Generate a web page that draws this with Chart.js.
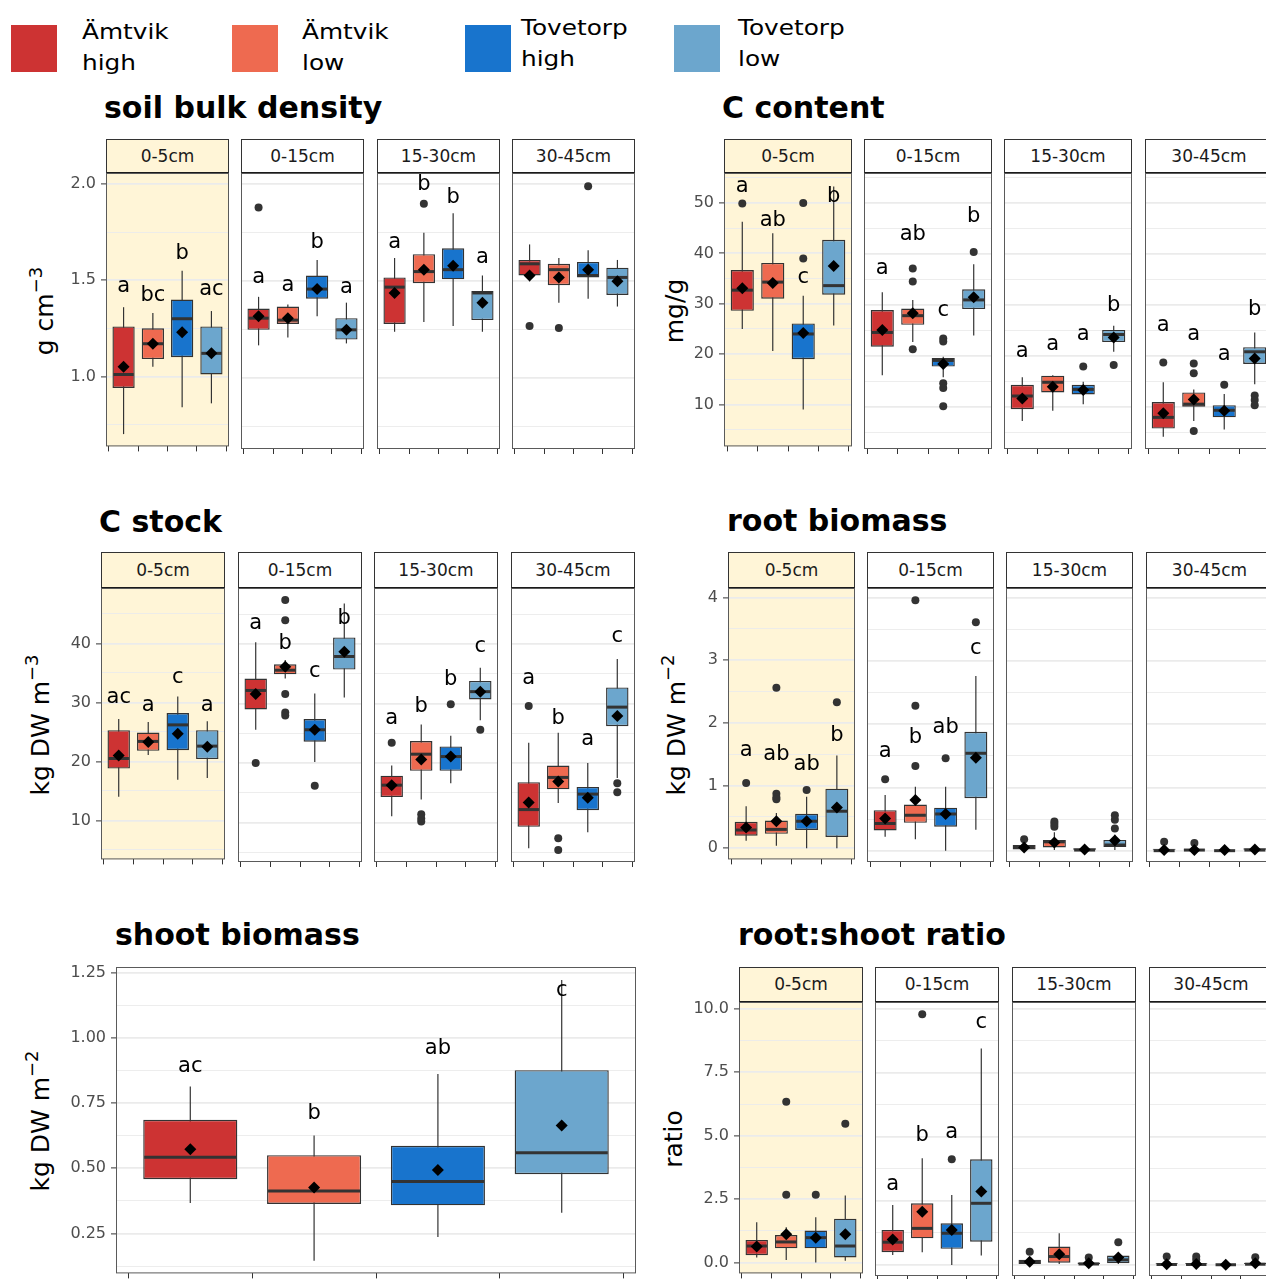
<!DOCTYPE html>
<html>
<head>
<meta charset="utf-8">
<script src="https://cdn.jsdelivr.net/npm/chart.js"></script>
<style>
  body { margin: 0; width: 1266px; height: 1279px; overflow: hidden; background: #fff; position: relative;
         font-family: 'DejaVu Sans', sans-serif; }
  .abs { position: absolute; white-space: nowrap; }
  .title { font-weight: bold; font-size: 30px; line-height: 30px; color: #000; }
  .ytitle { font-size: 25px; line-height: 25px; color: #000; transform: translate(-50%, -50%) rotate(-90deg); }
  .ytitle sup { font-size: 0.72em; vertical-align: 0.6em; line-height: 0; }
  .strip { box-sizing: border-box; border: 1px solid #333; border-bottom: 2px solid #1a1a1a; text-align: center;
           font-size: 17px; color: #1a1a1a; background: #fff; }
  .leg { font-size: 21px; line-height: 31px; color: #000; transform: scaleX(1.18); transform-origin: 0 0; }
  canvas { position: absolute; }
</style>
</head>
<body>
<script>
  var groups = ['Ämtvik high', 'Ämtvik low', 'Tovetorp high', 'Tovetorp low'];
  var colors = ['#CD3333', '#EE6A50', '#1874CD', '#6CA6CD'];
  var depths = ['0-5cm', '0-15cm', '15-30cm', '30-45cm'];

  // every table below: one row per depth facet, one entry per group
  // soil bulk density (g cm-3)
  var bdLo   = [[0.70, 1.05, 0.84, 0.86], [1.17, 1.21, 1.32, 1.18], [1.24, 1.29, 1.27, 1.24], [1.50, 1.39, 1.41, 1.37]];
  var bdQ1   = [[0.94, 1.09, 1.10, 1.01], [1.25, 1.28, 1.41, 1.20], [1.28, 1.49, 1.51, 1.30], [1.53, 1.48, 1.52, 1.43]];
  var bdMed  = [[1.01, 1.17, 1.30, 1.12], [1.31, 1.30, 1.46, 1.25], [1.47, 1.55, 1.56, 1.44], [1.59, 1.56, 1.53, 1.52]];
  var bdQ3   = [[1.26, 1.25, 1.40, 1.26], [1.36, 1.37, 1.53, 1.31], [1.52, 1.64, 1.67, 1.45], [1.61, 1.59, 1.60, 1.57]];
  var bdHi   = [[1.36, 1.33, 1.55, 1.34], [1.42, 1.38, 1.61, 1.39], [1.62, 1.75, 1.85, 1.53], [1.69, 1.62, 1.66, 1.61]];
  var bdMean = [[1.05, 1.17, 1.23, 1.12], [1.32, 1.31, 1.46, 1.25], [1.44, 1.56, 1.58, 1.39], [1.53, 1.52, 1.56, 1.50]];
  var bdOut  = [[[], [], [], []], [[1.88], [], [], []], [[], [1.90], [], []], [[1.27], [1.26], [1.99], []]];
  var bdLetters = [['a', 'bc', 'b', 'ac'], ['a', 'a', 'b', 'a'], ['a', 'b', 'b', 'a'], ['', '', '', '']];
  var bdLetterY = [[1.47, 1.42, 1.64, 1.45], [1.52, 1.48, 1.70, 1.47], [1.70, 2.00, 1.93, 1.62], [0, 0, 0, 0]];

  // C content (mg/g)
  var ccLo   = [[25.0, 20.6, 9.0, 25.7], [16.2, 22.7, 15.8, 24.0], [7.2, 9.2, 10.5, 20.8], [4.1, 7.2, 5.5, 14.4]];
  var ccQ1   = [[28.6, 31.0, 19.0, 31.8], [21.8, 26.1, 17.9, 29.2], [9.5, 12.8, 12.4, 22.7], [5.7, 10.0, 7.9, 18.4]];
  var ccMed  = [[32.7, 34.3, 24.0, 33.6], [24.6, 27.9, 19.1, 31.0], [12.1, 14.8, 13.4, 24.2], [7.9, 10.5, 9.3, 20.8]];
  var ccQ3   = [[36.7, 38.1, 26.1, 42.7], [29.0, 29.3, 19.6, 33.1], [14.3, 16.1, 14.3, 25.1], [10.9, 12.8, 10.3, 21.7]];
  var ccHi   = [[46.3, 44.0, 31.6, 53.3], [32.5, 31.0, 19.8, 38.0], [15.8, 16.2, 14.9, 25.9], [14.8, 13.4, 12.5, 24.6]];
  var ccMean = [[33.1, 34.1, 24.2, 37.5], [25.1, 28.4, 18.4, 31.5], [11.6, 13.9, 13.3, 23.6], [8.7, 11.4, 9.2, 19.5]];
  var ccOut  = [[[49.9], [], [50.0, 39.0], []],
                [[], [37.2, 34.6, 21.3], [23.4, 22.8, 14.6, 13.7, 10.1], [40.4]],
                [[], [], [17.9], [18.2]],
                [[18.7], [18.5, 16.6, 5.2], [14.3], [12.2, 11.3, 10.3]]];
  var ccLetters = [['a', 'ab', 'c', 'b'], ['a', 'ab', 'c', 'b'], ['a', 'a', 'a', 'b'], ['a', 'a', 'a', 'b']];
  var ccLetterY = [[53.3, 46.5, 35.3, 51.3], [37.1, 43.8, 29.0, 47.4], [20.8, 22.3, 24.2, 29.8], [25.9, 24.2, 20.3, 29.2]];

  // C stock (kg DW m-3)
  var csLo   = [[14.0, 21.1, 16.9, 17.2], [25.6, 34.2, 20.2, 31.0], [11.1, 13.9, 16.6, 27.2], [5.7, 13.3, 8.4, 17.5]];
  var csQ1   = [[18.8, 21.8, 21.9, 20.4], [29.0, 34.9, 23.6, 35.7], [14.3, 18.7, 18.7, 30.7], [9.3, 15.6, 12.1, 26.2]];
  var csMed  = [[20.5, 23.4, 26.2, 22.6], [32.2, 35.6, 25.6, 37.9], [16.3, 21.5, 21.1, 32.0], [12.2, 17.6, 14.8, 29.4]];
  var csQ3   = [[25.3, 24.9, 28.2, 25.3], [34.2, 36.6, 27.4, 41.1], [17.9, 23.7, 22.8, 33.8], [16.8, 19.6, 16.0, 32.7]];
  var csHi   = [[27.2, 26.7, 31.0, 26.8], [40.3, 37.3, 31.7, 46.8], [19.6, 26.5, 24.6, 36.0], [23.4, 25.1, 20.0, 37.5]];
  var csMean = [[21.0, 23.3, 24.7, 22.5], [31.6, 36.2, 25.6, 38.7], [16.3, 20.6, 21.1, 32.0], [13.4, 16.9, 14.2, 27.9]];
  var csOut  = [[[], [], [], []],
                [[20.0], [47.4, 44.0, 31.6, 28.5, 28.0], [16.2], []],
                [[23.4], [11.4, 10.7, 10.2], [29.9], [25.6]],
                [[29.6], [7.4, 5.4], [], [16.6, 15.1]]];
  var csLetters = [['ac', 'a', 'c', 'a'], ['a', 'b', 'c', 'b'], ['a', 'b', 'b', 'c'], ['a', 'b', 'a', 'c']];
  var csLetterY = [[30.8, 29.4, 34.2, 29.4], [43.4, 40.0, 35.4, 44.3], [27.4, 29.5, 34.0, 39.6], [34.2, 27.5, 23.9, 41.2]];

  // root biomass (kg DW m-2)
  var rbLo   = [[0.12, 0.04, 0, 0], [0.22, 0.18, 0, 0.33], [0, 0.01, 0, 0.01], [0, 0, 0, 0]];
  var rbQ1   = [[0.20, 0.23, 0.29, 0.18], [0.32, 0.44, 0.38, 0.83], [0.02, 0.05, 0, 0.06], [0, 0, 0, 0]];
  var rbMed  = [[0.29, 0.30, 0.43, 0.59], [0.43, 0.56, 0.58, 1.54], [0.05, 0.14, 0.01, 0.09], [0, 0.01, 0, 0.01]];
  var rbQ3   = [[0.42, 0.44, 0.55, 0.95], [0.64, 0.73, 0.68, 1.88], [0.09, 0.17, 0.04, 0.17], [0.03, 0.02, 0.02, 0.04]];
  var rbHi   = [[0.67, 0.56, 0.82, 1.48], [0.88, 1.01, 1.01, 2.76], [0.12, 0.29, 0.06, 0.25], [0.06, 0.06, 0.04, 0.06]];
  var rbMean = [[0.33, 0.43, 0.43, 0.65], [0.51, 0.80, 0.58, 1.47], [0.05, 0.13, 0.02, 0.16], [0.01, 0.01, 0.01, 0.02]];
  var rbOut  = [[[1.04], [2.56, 0.87, 0.81, 0.78], [0.93], [2.33]],
                [[1.13], [3.96, 2.29, 1.34], [1.46], [3.61]],
                [[0.18], [0.46, 0.42, 0.38], [], [0.56, 0.49, 0.35]],
                [[0.14], [0.12], [], []]];
  var rbLetters = [['a', 'ab', 'ab', 'b'], ['a', 'b', 'ab', 'c'], ['', '', '', ''], ['', '', '', '']];
  var rbLetterY = [[1.56, 1.50, 1.34, 1.79], [1.56, 1.79, 1.95, 3.20], [0, 0, 0, 0], [0, 0, 0, 0]];

  // shoot biomass (kg DW m-2), a single facet
  var sbLo   = [[0.367, 0.145, 0.236, 0.329]];
  var sbQ1   = [[0.458, 0.363, 0.358, 0.477]];
  var sbMed  = [[0.542, 0.413, 0.449, 0.559]];
  var sbQ3   = [[0.686, 0.550, 0.586, 0.876]];
  var sbHi   = [[0.813, 0.626, 0.861, 1.222]];
  var sbMean = [[0.573, 0.426, 0.493, 0.664]];
  var sbOut  = [[[], [], [], []]];
  var sbLetters = [['ac', 'b', 'ab', 'c']];
  var sbLetterY = [[0.89, 0.71, 0.96, 1.18]];

  // root:shoot ratio
  var rsLo   = [[0.20, 0.10, 0, 0.07], [0.39, 0.50, 0, 0.37], [0, 0.04, 0, 0.04], [0, 0, 0, 0]];
  var rsQ1   = [[0.29, 0.56, 0.56, 0.20], [0.50, 1.04, 0.63, 0.91], [0.04, 0.09, 0, 0.07], [0, 0, 0, 0]];
  var rsMed  = [[0.65, 0.81, 0.98, 0.65], [0.89, 1.43, 1.24, 2.41], [0.13, 0.33, 0.04, 0.20], [0.02, 0.02, 0.01, 0.03]];
  var rsQ3   = [[0.89, 1.08, 1.26, 1.73], [1.37, 2.41, 1.63, 4.13], [0.20, 0.72, 0.10, 0.37], [0.07, 0.07, 0.04, 0.09]];
  var rsHi   = [[1.59, 1.39, 1.78, 2.64], [2.34, 4.17, 2.73, 8.46], [0.26, 1.24, 0.22, 0.46], [0.13, 0.13, 0.07, 0.20]];
  var rsMean = [[0.63, 1.11, 0.98, 1.11], [1.00, 2.08, 1.37, 2.87], [0.13, 0.42, 0.07, 0.29], [0.03, 0.04, 0.01, 0.07]];
  var rsOut  = [[[], [6.34, 2.67], [2.67], [5.47]],
                [[], [9.79], [4.13], []],
                [[0.52], [], [0.29], [0.89]],
                [[0.33], [0.33, 0.20], [], [0.30]]];
  var rsLetters = [['', '', '', ''], ['a', 'b', 'a', 'c'], ['', '', '', ''], ['', '', '', '']];
  var rsLetterY = [[0, 0, 0, 0], [3.15, 5.05, 5.17, 9.48], [0, 0, 0, 0], [0, 0, 0, 0]];

  // page layout of the six plots
  var plots = [
    { title: 'soil bulk density', yTitle: 'g cm<sup>−3</sup>', titleX: 104, titleTop: 93, yTitleX: 44, yTitleY: 311,
      facetX: [106, 241, 377, 512], facetW: 123, stripTop: 139, panelTop: 173, panelBottom: 449,
      yMin: 0.636, yMax: 2.058, minor: 0.25, major: 0.5, dec: 1,
      lo: bdLo, q1: bdQ1, med: bdMed, q3: bdQ3, hi: bdHi, mean: bdMean, out: bdOut, letters: bdLetters, letterY: bdLetterY },
    { title: 'C content', yTitle: 'mg/g', titleX: 722, titleTop: 93, yTitleX: 674, yTitleY: 311,
      facetX: [724, 864, 1004, 1145], facetW: 128, stripTop: 139, panelTop: 173, panelBottom: 449,
      yMin: 1.68, yMax: 55.96, minor: 5, major: 10, dec: 0,
      lo: ccLo, q1: ccQ1, med: ccMed, q3: ccQ3, hi: ccHi, mean: ccMean, out: ccOut, letters: ccLetters, letterY: ccLetterY },
    { title: 'C stock', yTitle: 'kg DW m<sup>−3</sup>', titleX: 99, titleTop: 507, yTitleX: 40, yTitleY: 725,
      facetX: [101, 238, 374, 511], facetW: 124, stripTop: 552, panelTop: 588, panelBottom: 862,
      yMin: 3.40, yMax: 49.4, minor: 5, major: 10, dec: 0,
      lo: csLo, q1: csQ1, med: csMed, q3: csQ3, hi: csHi, mean: csMean, out: csOut, letters: csLetters, letterY: csLetterY },
    { title: 'root biomass', yTitle: 'kg DW m<sup>−2</sup>', titleX: 727, titleTop: 506, yTitleX: 676, yTitleY: 725,
      facetX: [728, 867, 1006, 1146], facetW: 127, stripTop: 552, panelTop: 588, panelBottom: 862,
      yMin: -0.179, yMax: 4.153, minor: 0.5, major: 1, dec: 0,
      lo: rbLo, q1: rbQ1, med: rbMed, q3: rbQ3, hi: rbHi, mean: rbMean, out: rbOut, letters: rbLetters, letterY: rbLetterY },
    { title: 'shoot biomass', yTitle: 'kg DW m<sup>−2</sup>', titleX: 115, titleTop: 920, yTitleX: 40, yTitleY: 1121,
      facetX: [116], facetW: 520, stripTop: null, panelTop: 967, panelBottom: 1276,
      yMin: 0.0968, yMax: 1.2717, minor: 0.125, major: 0.25, dec: 2,
      lo: sbLo, q1: sbQ1, med: sbMed, q3: sbQ3, hi: sbHi, mean: sbMean, out: sbOut, letters: sbLetters, letterY: sbLetterY },
    { title: 'root:shoot ratio', yTitle: 'ratio', titleX: 738, titleTop: 920, yTitleX: 673, yTitleY: 1139,
      facetX: [739, 875, 1012, 1149], facetW: 124, stripTop: 967, panelTop: 1002, panelBottom: 1276,
      yMin: -0.43, yMax: 10.273, minor: 1.25, major: 2.5, dec: 1,
      lo: rsLo, q1: rsQ1, med: rsMed, q3: rsQ3, hi: rsHi, mean: rsMean, out: rsOut, letters: rsLetters, letterY: rsLetterY }
  ];

  var highlight = '#FFF5D7';

  function addDiv(cls, html, css) {
    var d = document.createElement('div');
    d.className = 'abs ' + cls;
    d.innerHTML = html;
    Object.assign(d.style, css);
    document.body.appendChild(d);
    return d;
  }

  // whiskers under the boxes, medians over them, then letters and the panel frame
  var boxPlugin = {
    id: 'boxplot',
    beforeDraw: function (chart) {
      var box = chart.data.datasets[0];
      if (!box.highlight) return;
      var a = chart.chartArea, c = chart.ctx;
      c.save();
      c.fillStyle = highlight;
      c.fillRect(a.left, a.top, a.right - a.left, a.bottom - a.top);
      c.restore();
    },
    beforeDatasetDraw: function (chart, args) {
      if (args.index !== 0) return;
      var box = chart.data.datasets[0], y = chart.scales.y, c = chart.ctx;
      c.save();
      c.strokeStyle = '#333';
      c.lineWidth = 1.2;
      args.meta.data.forEach(function (bar, i) {
        c.beginPath();
        c.moveTo(bar.x, y.getPixelForValue(box.whiskerLo[i]));
        c.lineTo(bar.x, y.getPixelForValue(box.whiskerHi[i]));
        c.stroke();
      });
      c.restore();
    },
    afterDatasetDraw: function (chart, args) {
      if (args.index !== 0) return;
      var box = chart.data.datasets[0], y = chart.scales.y, c = chart.ctx;
      c.save();
      c.strokeStyle = '#333';
      c.lineWidth = 3;
      args.meta.data.forEach(function (bar, i) {
        var py = y.getPixelForValue(box.median[i]);
        c.beginPath();
        c.moveTo(bar.x - bar.width / 2 + 1, py);
        c.lineTo(bar.x + bar.width / 2 - 1, py);
        c.stroke();
      });
      c.restore();
    },
    afterDatasetsDraw: function (chart) {
      var box = chart.data.datasets[0], y = chart.scales.y, c = chart.ctx;
      var bars = chart.getDatasetMeta(0).data;
      c.save();
      c.fillStyle = '#000';
      c.font = '21px "DejaVu Sans"';
      c.textAlign = 'center';
      c.textBaseline = 'middle';
      box.letters.forEach(function (t, i) {
        if (t) c.fillText(t, bars[i].x, y.getPixelForValue(box.letterY[i]));
      });
      var a = chart.chartArea;
      c.strokeStyle = '#5a5a5a';
      c.lineWidth = 1;
      c.strokeRect(a.left + 0.5, a.top + 0.5, a.right - a.left - 1, a.bottom - a.top - 1);
      c.restore();
    }
  };

  function makeFacet(p, f) {
    var first = f === 0;
    var padT = 16, padB = 6, padL = 2, padR = 3, xAxisH = 6;
    var axisW = first ? 58 : 0;
    var panelH = p.panelBottom - p.panelTop;
    var canvas = document.createElement('canvas');
    canvas.width = padL + axisW + p.facetW + padR;
    canvas.height = padT + panelH + xAxisH + padB;
    canvas.style.left = (p.facetX[f] - padL - axisW) + 'px';
    canvas.style.top = (p.panelTop - padT) + 'px';
    document.body.appendChild(canvas);

    var yTicks = [];
    for (var k = Math.ceil(p.yMin / p.minor - 1e-9); k * p.minor <= p.yMax + 1e-9; k++) {
      var v = +(k * p.minor).toFixed(6);
      var r = v / p.major;
      yTicks.push({ value: v, major: Math.abs(r - Math.round(r)) < 1e-6 });
    }

    var outliers = [];
    p.out[f].forEach(function (vals, i) {
      vals.forEach(function (v) { outliers.push({ x: i + 1, y: v }); });
    });

    new Chart(canvas, {
      type: 'bar',
      data: {
        datasets: [
          {
            type: 'bar',
            data: groups.map(function (g, i) { return { x: i + 1, y: [p.q1[f][i], p.q3[f][i]] }; }),
            backgroundColor: colors,
            borderColor: '#333',
            borderWidth: 1.4,
            borderSkipped: false,
            barPercentage: 0.76,
            categoryPercentage: 1,
            order: 3,
            whiskerLo: p.lo[f],
            whiskerHi: p.hi[f],
            median: p.med[f],
            letters: p.letters[f],
            letterY: p.letterY[f],
            highlight: p.stripTop !== null && f === 0
          },
          {
            type: 'line',
            data: outliers,
            showLine: false,
            pointRadius: 4,
            pointBackgroundColor: '#333',
            pointBorderColor: '#333',
            pointBorderWidth: 0,
            order: 2
          },
          {
            type: 'line',
            data: groups.map(function (g, i) { return { x: i + 1, y: p.mean[f][i] }; }),
            showLine: false,
            pointStyle: 'rectRot',
            pointRadius: 6,
            pointBackgroundColor: '#000',
            pointBorderColor: '#000',
            pointBorderWidth: 0,
            order: 1
          }
        ]
      },
      options: {
        responsive: false,
        animation: false,
        events: [],
        layout: { autoPadding: false, padding: { top: padT, bottom: padB, left: padL, right: padR } },
        plugins: { legend: { display: false }, tooltip: { enabled: false } },
        scales: {
          x: {
            type: 'linear', min: 0.4, max: 4.6, offset: false, bounds: 'data',
            afterBuildTicks: function (s) { s.ticks = [1, 2, 3, 4].map(function (v) { return { value: v }; }); },
            afterFit: function (s) { s.height = xAxisH; },
            ticks: { display: false },
            grid: { drawOnChartArea: false, drawTicks: true, tickLength: 5, color: '#333', lineWidth: 1 },
            border: { display: false }
          },
          y: {
            type: 'linear', min: p.yMin, max: p.yMax, bounds: 'data',
            afterBuildTicks: function (s) { s.ticks = yTicks.map(function (t) { return { value: t.value, major: t.major }; }); },
            afterFit: function (s) { s.width = axisW; },
            ticks: {
              display: first, autoSkip: false, padding: 5, color: '#4D4D4D',
              font: { family: 'DejaVu Sans', size: 16 },
              callback: function (v, i, t) { return t[i].major ? v.toFixed(p.dec) : ''; }
            },
            grid: {
              color: '#EBEBEB',
              lineWidth: function (c) { return c.tick && c.tick.major ? 1.8 : 0.9; },
              drawTicks: first, tickLength: 5,
              tickColor: function (c) { return c.tick && c.tick.major ? '#333' : 'rgba(0,0,0,0)'; },
              tickWidth: 1
            },
            border: { display: false }
          }
        }
      },
      plugins: [boxPlugin]
    });
  }

  // legend
  var legendX = [11, 232, 465, 674];
  var legendTextX = [82, 302, 521, 738];
  var legendTextTop = [16.5, 16.5, 12.5, 12.5];
  groups.forEach(function (g, i) {
    addDiv('', '', { left: legendX[i] + 'px', top: '25px', width: '46px', height: '47px', background: colors[i] });
    var parts = g.split(' ');
    addDiv('leg', parts[0] + '<br>' + parts[1], { left: legendTextX[i] + 'px', top: legendTextTop[i] + 'px' });
  });

  plots.forEach(function (p) {
    addDiv('title', p.title, { left: p.titleX + 'px', top: p.titleTop + 'px' });
    addDiv('ytitle', p.yTitle, { left: p.yTitleX + 'px', top: p.yTitleY + 'px' });
    p.facetX.forEach(function (fx, f) {
      if (p.stripTop !== null) {
        var h = p.panelTop - p.stripTop + 1;
        addDiv('strip', depths[f], {
          left: fx + 'px', top: p.stripTop + 'px', width: p.facetW + 'px', height: h + 'px',
          lineHeight: (h - 3) + 'px', background: f === 0 ? highlight : '#fff'
        });
      }
      makeFacet(p, f);
    });
  });
</script>
</body>
</html>
